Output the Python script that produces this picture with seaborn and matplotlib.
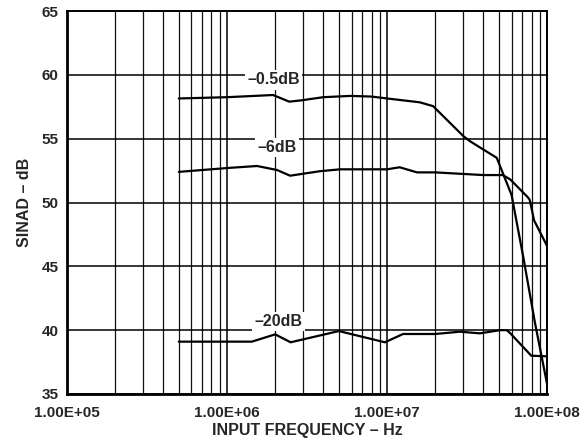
import numpy as np
import pandas as pd
import matplotlib
matplotlib.use("Agg")
import matplotlib.pyplot as plt
import matplotlib.ticker as mticker
import seaborn as sns

# SINAD vs input frequency
freq_05 = [5e5, 1.0e6, 1.94e6, 2.45e6, 2.9e6, 4e6, 5.9e6, 8e6, 1.0e7, 1.6e7,
           1.94e7, 3.0e7, 3.3e7, 4.85e7, 6.0e7, 7.1e7, 8.4e7, 1e8]
sinad_05 = [58.15, 58.25, 58.42, 57.9, 58.0, 58.25, 58.35, 58.3, 58.15, 57.85,
            57.55, 55.2, 54.8, 53.5, 50.6, 45.75, 40.6, 35.8]

freq_6 = [5e5, 1e6, 1.54e6, 2.05e6, 2.48e6, 3.8e6, 5.1e6, 1e7, 1.2e7, 1.54e7,
          2e7, 4e7, 5.3e7, 5.9e7, 7.6e7, 7.8e7, 8.3e7, 1e8]
sinad_6 = [52.4, 52.7, 52.86, 52.55, 52.1, 52.45, 52.6, 52.6, 52.76, 52.36,
           52.36, 52.15, 52.15, 51.8, 50.4, 50.2, 48.6, 46.6]

freq_20 = [5e5, 1.43e6, 2.0e6, 2.5e6, 5e6, 9.7e6, 1.26e7, 2e7, 2.86e7, 3.8e7,
           5.1e7, 5.6e7, 5.9e7, 7.97e7, 1e8]
sinad_20 = [39.1, 39.1, 39.67, 39.05, 39.93, 39.05, 39.7, 39.7, 39.88, 39.75,
            40.0, 40.0, 39.75, 38.0, 37.95]

curve_labels = ["\u20130.5dB", "\u20136dB", "\u201320dB"]
label_pos = [(1.95e6, 59.6), (2.05e6, 54.3), (2.1e6, 40.7)]

x_ticks = [1e5, 1e6, 1e7, 1e8]
x_ticklabels = ["1.00E+05", "1.00E+06", "1.00E+07", "1.00E+08"]
y_ticks = [35, 40, 45, 50, 55, 60, 65]

sns.set_theme(style="white")
plt.rcParams["font.family"] = ["Liberation Sans", "DejaVu Sans"]
plt.rcParams["font.weight"] = "bold"

fig = plt.figure(figsize=(5.87, 4.41), dpi=100)
ax = fig.add_axes([0.1141, 0.1066, 0.8178, 0.8684])

for f, s in [(freq_05, sinad_05), (freq_6, sinad_6), (freq_20, sinad_20)]:
    df = pd.DataFrame({"freq": f, "sinad": s})
    sns.lineplot(data=df, x="freq", y="sinad", ax=ax, color="black",
                 linewidth=1.6, sort=False)

ax.set_xscale("log")
ax.set_xlim(1e5, 1e8)
ax.set_ylim(35, 65)
ax.set_xticks(x_ticks)
ax.set_xticklabels(x_ticklabels)
ax.set_yticks(y_ticks)
ax.xaxis.set_minor_locator(mticker.LogLocator(base=10, subs=np.arange(2, 10)))
ax.xaxis.set_minor_formatter(mticker.NullFormatter())
ax.tick_params(which="both", length=0, labelsize=11)
ax.tick_params(axis="x", pad=9)
ax.tick_params(axis="y", pad=6)
for lab in ax.get_xticklabels() + ax.get_yticklabels():
    lab.set_fontweight("bold")

ax.grid(True, which="major", axis="both", color="black", linewidth=1.1)
ax.grid(True, which="minor", axis="x", color="#111111", linewidth=0.9)
ax.set_axisbelow(True)

for side in ["left", "bottom"]:
    ax.spines[side].set_linewidth(2.0)
for side in ["top", "right"]:
    ax.spines[side].set_linewidth(1.4)
for sp in ax.spines.values():
    sp.set_color("black")

for text, (xp, yp) in zip(curve_labels, label_pos):
    ax.text(xp, yp, text, ha="center", va="center", fontsize=11.5,
            fontweight="bold", zorder=5,
            bbox=dict(facecolor="white", edgecolor="none", pad=1.5))

ax.set_xlabel("INPUT FREQUENCY \u2013 Hz", fontsize=11.5, fontweight="bold", labelpad=2)
ax.set_ylabel("SINAD \u2013 dB", fontsize=11.5, fontweight="bold", labelpad=7)

fig.savefig("out.png", dpi=100)
